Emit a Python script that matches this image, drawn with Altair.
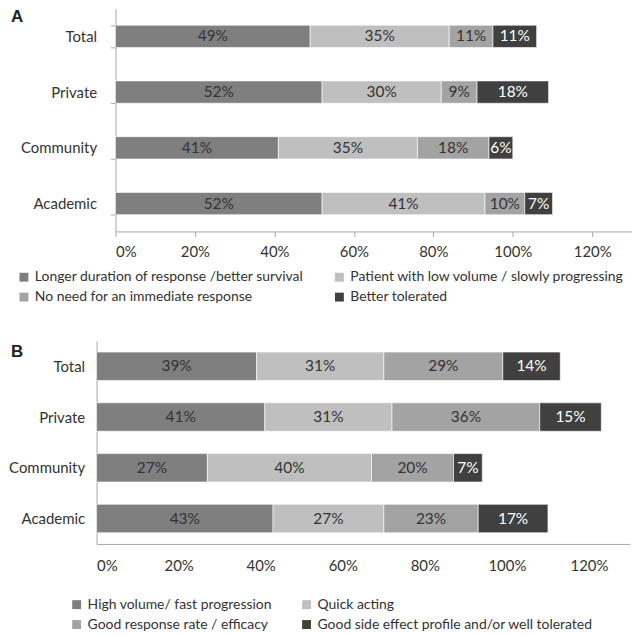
import altair as alt
import pandas as pd

categories = ["Total", "Private", "Community", "Academic"]

a_series = [
    "Longer duration of response /better survival",
    "Patient with low volume / slowly progressing",
    "No need for an immediate response",
    "Better tolerated",
]
a_total = [49, 35, 11, 11]
a_private = [52, 30, 9, 18]
a_community = [41, 35, 18, 6]
a_academic = [52, 41, 10, 7]

b_series = [
    "High volume/ fast progression",
    "Quick acting",
    "Good response rate / efficacy",
    "Good side effect profile and/or well tolerated",
]
b_total = [39, 31, 29, 14]
b_private = [41, 31, 36, 15]
b_community = [27, 40, 20, 7]
b_academic = [43, 27, 23, 17]

tick_values = [0, 0.2, 0.4, 0.6, 0.8, 1.0, 1.2]
colors = ["#7f7f7f", "#bfbfbf", "#a3a3a3", "#404040"]

FONT = "Lato"
TXT = "#333333"
AXIS_GRAY = "#a6a6a6"


def make_df(series, rows):
    recs = []
    for cat, vals in zip(categories, rows):
        for i, (s, v) in enumerate(zip(series, vals)):
            recs.append({"cat": cat, "series": s, "order": i, "value": v / 100.0})
    return pd.DataFrame(recs)


def panel(df, series, letter, width, height, x_start, pad_inner, show_ticks,
          legend_x, legend_y, letter_y, label_pad, col_pad, xlabel_pad):
    yscale = alt.Scale(paddingInner=pad_inner, paddingOuter=pad_inner / 2)
    xscale = alt.Scale(domain=[0, 1.3], nice=False, range=[x_start, width])
    yaxis = alt.Axis(
        title=None, labelFontSize=15, labelColor=TXT, labelFont=FONT,
        domainColor=AXIS_GRAY, ticks=show_ticks, tickBand="extent",
        tickSize=5, tickColor=AXIS_GRAY, labelPadding=label_pad,
        offset=-x_start,
    )
    xaxis = alt.Axis(
        title=None, values=tick_values, format=".0%", labelFontSize=15,
        labelColor=TXT, labelFont=FONT, domainColor=AXIS_GRAY, grid=False,
        ticks=show_ticks, tickSize=5, tickColor=AXIS_GRAY,
        labelPadding=xlabel_pad,
    )
    base = alt.Chart(df)
    bars = base.mark_bar(stroke="white", strokeWidth=0.6).encode(
        y=alt.Y("cat:N", sort=categories, scale=yscale, axis=yaxis),
        x=alt.X("value:Q", stack="zero", scale=xscale, axis=xaxis),
        color=alt.Color(
            "series:N", sort=series,
            scale=alt.Scale(domain=series, range=colors),
            legend=alt.Legend(
                title=None, orient="none", legendX=legend_x, legendY=legend_y,
                columns=2, direction="horizontal", symbolType="square",
                symbolSize=80, symbolStrokeWidth=0, labelFontSize=14,
                labelFont=FONT, labelColor=TXT, labelLimit=500,
                columnPadding=col_pad, rowPadding=6, labelOffset=4,
            ),
        ),
        order=alt.Order("order:Q"),
    )
    text = base.transform_stack(
        stack="value", groupby=["cat"], sort=[alt.SortField("order")],
        as_=["x0", "x1"],
    ).transform_calculate(
        mid="(datum.x0 + datum.x1) / 2"
    ).mark_text(fontSize=15.5, font=FONT).encode(
        y=alt.Y("cat:N", sort=categories),
        x=alt.X("mid:Q", title=None),
        text=alt.Text("value:Q", format=".0%"),
        color=alt.condition("datum.order == 3", alt.value("white"), alt.value(TXT)),
    )
    tag = alt.Chart(pd.DataFrame({"t": [letter]})).mark_text(
        font="Liberation Sans", fontSize=17, fontWeight="bold", color="#222222",
        align="left", baseline="top",
    ).encode(text="t:N", x=alt.value(-86), y=alt.value(letter_y))
    return alt.layer(bars, text, tag).properties(width=width, height=height)


df_a = make_df(a_series, [a_total, a_private, a_community, a_academic])
df_b = make_df(b_series, [b_total, b_private, b_community, b_academic])

pa = panel(df_a, a_series, "A", 538, 224, 19, 0.6, True,
           -80, 263, 1, 14, 28, 8)
pb = panel(df_b, b_series, "B", 536, 204, 0, 0.44, False,
           -27, 258, 3, 12, 27, 15)

chart = alt.vconcat(pa, pb, spacing=30).resolve_scale(
    color="independent", x="independent", y="independent"
).properties(
    padding={"top": -8, "left": 0, "right": 0, "bottom": 0}
).configure_view(stroke=None)

chart.save("out.html", embed_options={"renderer": "svg", "actions": False})
